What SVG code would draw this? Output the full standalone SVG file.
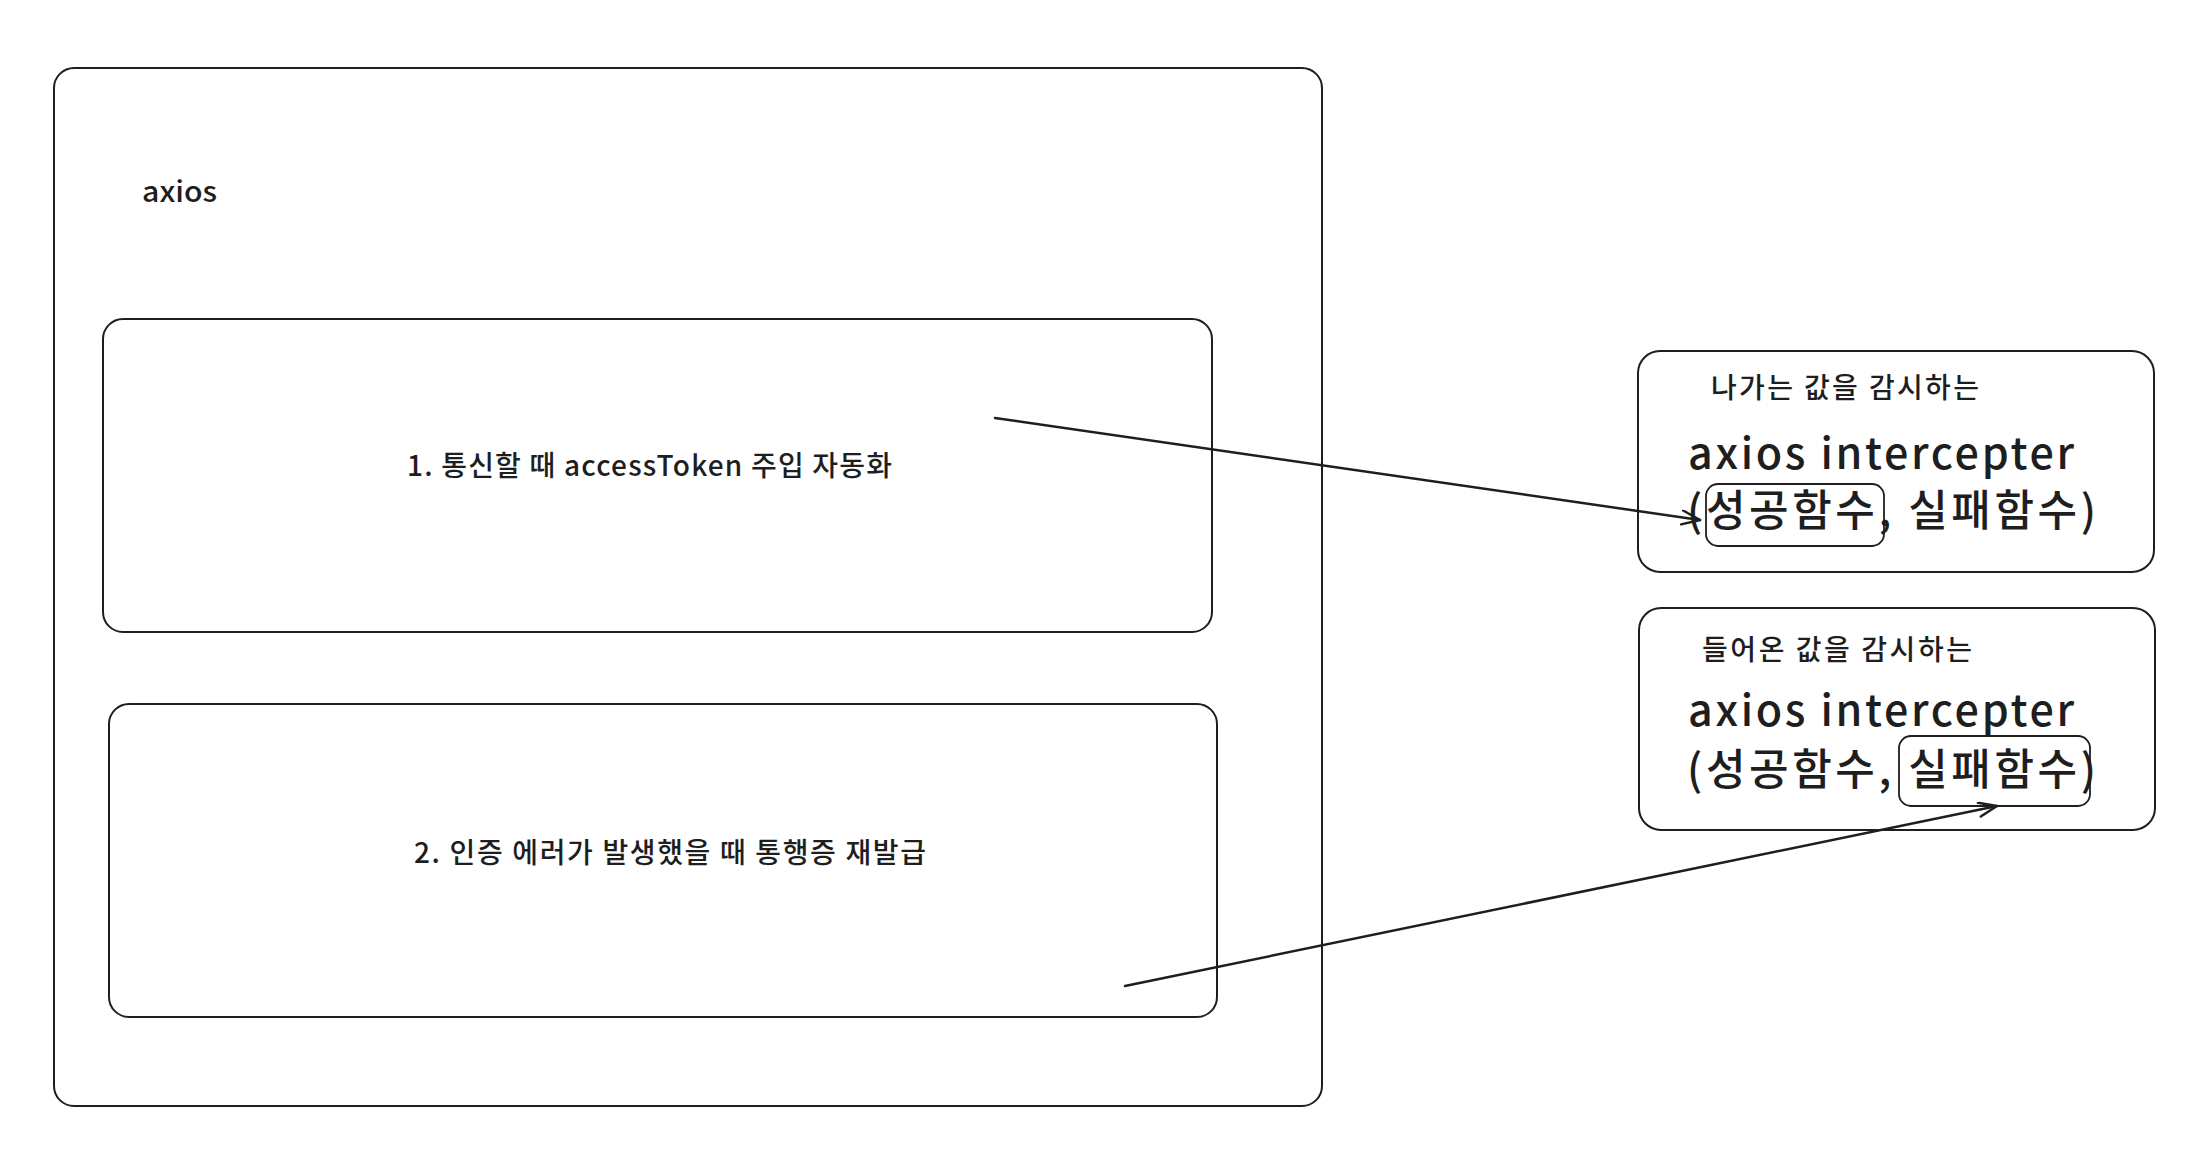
<svg xmlns="http://www.w3.org/2000/svg" width="2212" height="1172" viewBox="0 0 2212 1172">
<defs>
<style>
.box{fill:none;stroke:#1e1e1e;stroke-width:2}
.hl{fill:none;stroke:#1e1e1e;stroke-width:1.8}
.t{font-family:"Noto Sans CJK KR","Noto Sans",sans-serif;fill:#1e1e1e;font-weight:500}
.s{font-size:28px}
.b{font-size:43px}
.arr{fill:none;stroke:#1e1e1e;stroke-width:2.5;stroke-linecap:round}
</style>
<marker id="ah" markerWidth="24" markerHeight="20" refX="20" refY="8" orient="auto" markerUnits="userSpaceOnUse">
<path d="M2,1 L20,8 L2,15" fill="none" stroke="#1e1e1e" stroke-width="2.5" stroke-linecap="round" stroke-linejoin="round"/>
</marker>
</defs>
<rect width="2212" height="1172" fill="#ffffff"/>
<g id="axios-outer">
<rect class="box" x="54" y="68" width="1268" height="1038" rx="20"/>
<text class="t s" x="142" y="202" textLength="75" lengthAdjust="spacingAndGlyphs">axios</text>
</g>
<g id="step1">
<rect class="box" x="103" y="319" width="1109" height="313" rx="20"/>
<text class="t s" x="407" y="476" textLength="485">1. 통신할 때 accessToken 주입 자동화</text>
</g>
<g id="step2">
<rect class="box" x="109" y="704" width="1108" height="313" rx="20"/>
<text class="t s" x="414" y="863" textLength="512">2. 인증 에러가 발생했을 때 통행증 재발급</text>
</g>
<g id="request-interceptor">
<rect class="box" x="1638" y="351" width="516" height="221" rx="22"/>
<text class="t s" x="1711" y="398" textLength="268">나가는 값을 감시하는</text>
<text class="t b" x="1688" y="469" textLength="386">axios intercepter</text>
<text class="t b" x="1687" y="526" textLength="409">(성공함수, 실패함수)</text>
<rect class="hl" x="1706" y="484" width="178" height="62" rx="12"/>
</g>
<g id="response-interceptor">
<rect class="box" x="1639" y="608" width="516" height="222" rx="22"/>
<text class="t s" x="1702" y="660" textLength="270">들어온 값을 감시하는</text>
<text class="t b" x="1688" y="726" textLength="386">axios intercepter</text>
<text class="t b" x="1687" y="785" textLength="409">(성공함수, 실패함수)</text>
<rect class="hl" x="1899" y="736" width="191" height="70" rx="12"/>
</g>
<g id="connectors">
<line class="arr" x1="995" y1="418" x2="1700" y2="520" marker-end="url(#ah)"/>
<line class="arr" x1="1125" y1="986" x2="1997" y2="806" marker-end="url(#ah)"/>
</g>
</svg>
